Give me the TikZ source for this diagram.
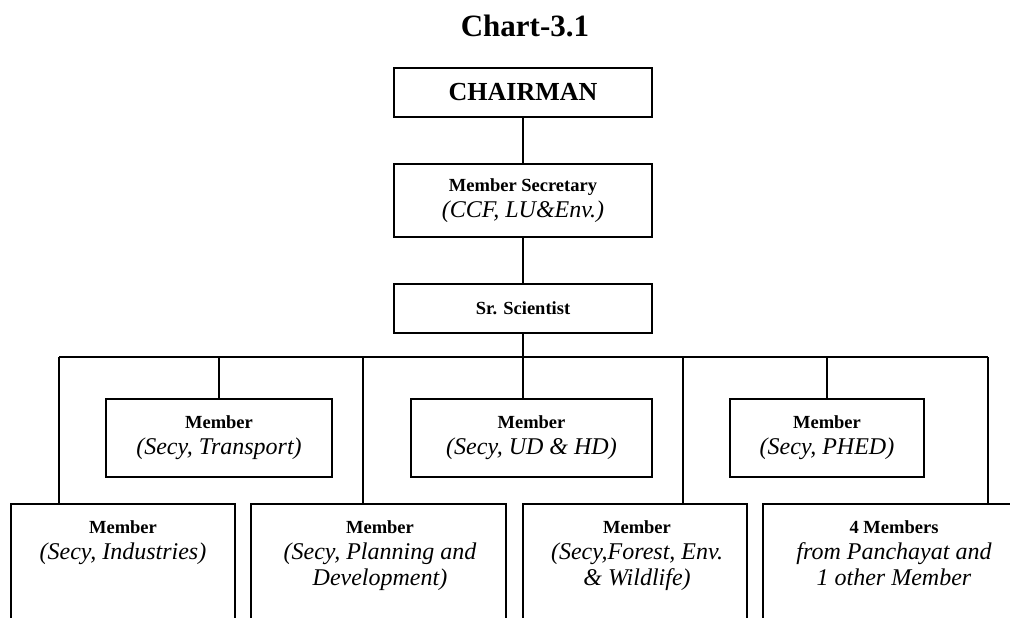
\documentclass[tikz,border=0pt]{standalone}
\usepackage{fontspec}
\setmainfont{Liberation Serif}
\newcommand{\bhead}[1]{{\fontsize{18.5}{26}\selectfont\upshape\bfseries #1}}
\begin{document}
\begin{tikzpicture}[x=1pt,y=-1pt,line width=1.4pt,
  box/.style={draw,rectangle,inner sep=0pt,align=center,
    font=\fontsize{24}{26}\selectfont},
  openbox/.style={draw,rectangle,inner sep=0pt,minimum height=136pt},
  txt/.style={inner sep=0pt,align=center,anchor=base,
    font=\fontsize{24}{26}\selectfont\itshape}]
\useasboundingbox (0,0) rectangle (1010,618);
\clip (0,0) rectangle (1010,618);

\node[inner sep=0pt,anchor=base,font=\fontsize{31}{34}\selectfont\bfseries] (title) at (525,37) {Chart-3.1};

\node[box,minimum width=258pt,minimum height=49pt,font=\fontsize{26}{28}\selectfont\bfseries] (chair) at (523,92.5) {CHAIRMAN};
\node[box,minimum width=258pt,minimum height=73pt] (sec) at (523,200.5) {\bhead{Member Secretary}\\\itshape(CCF, LU\&Env.)};
\node[box,minimum width=258pt,minimum height=49pt] (sci) at (523,308.5) {\bhead{Sr. Scientist}};

% middle row
\node[box,minimum width=226pt,minimum height=78pt] (tr) at (219,438) {\bhead{Member}\\\itshape(Secy, Transport)};
\node[box,minimum width=241pt,minimum height=78pt] (ud) at (531.5,438) {\bhead{Member}\\\itshape(Secy, UD \& HD)};
\node[box,minimum width=194pt,minimum height=78pt] (ph) at (827,438) {\bhead{Member}\\\itshape(Secy, PHED)};

% bottom row (open at the bottom edge of the page)
\node[openbox,minimum width=224pt] (ind) at (123,572) {};
\node[openbox,minimum width=255pt] (plan) at (378.5,572) {};
\node[openbox,minimum width=224pt] (for) at (635,572) {};
\node[openbox,minimum width=262pt] (pan) at (894,572) {};

% anchor=base is the baseline of the last line
\node[txt] (indt) at (123,559) {\bhead{Member}\\(Secy, Industries)};
\node[txt] (plant) at (380,585) {\bhead{Member}\\(Secy, Planning and\\Development)};
\node[txt] (fort) at (637,585) {\bhead{Member}\\(Secy,Forest, Env.\\\& Wildlife)};
\node[txt] (pant) at (894,585) {\bhead{4 Members}\\from Panchayat and\\1 other Member};

% bus
\coordinate (b1) at (59,357);
\coordinate (b2) at (363,357);
\coordinate (b3) at (683,357);
\coordinate (b4) at (988,357);

\draw (chair.south) -- (sec.north);
\draw (sec.south) -- (sci.north);
\draw (sci.south) -- (sci.south |- ud.north);
\draw (b1) -- (b4);
\draw (tr.north) -- (tr.north |- b1);
\draw (ph.north) -- (ph.north |- b1);
\draw (b1) -- (b1 |- ind.north);
\draw (b2) -- (b2 |- plan.north);
\draw (b3) -- (b3 |- for.north);
\draw (b4) -- (b4 |- pan.north);
\end{tikzpicture}
\end{document}
